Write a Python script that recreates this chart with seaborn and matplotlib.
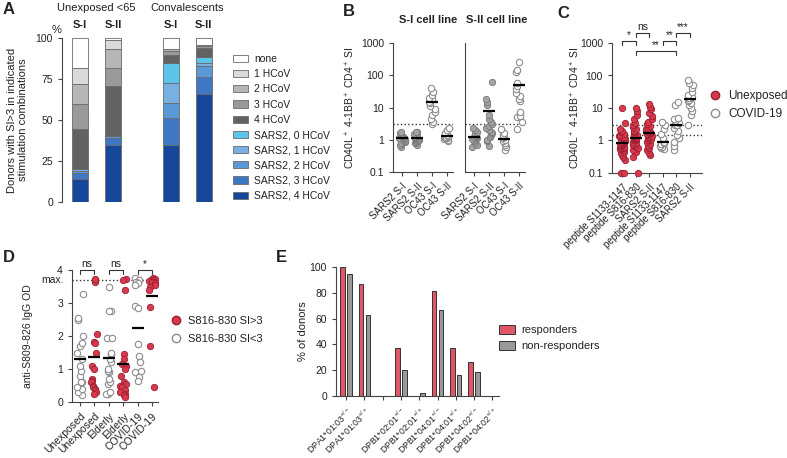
import numpy as np
import pandas as pd
import matplotlib
matplotlib.use("Agg")
import matplotlib.pyplot as plt
from matplotlib.patches import Patch
from matplotlib.lines import Line2D
import seaborn as sns

W, H = 787, 458

# ---------------- data ----------------
# A: % of donors per stimulation combination (legend order, top -> bottom)
stack_labels = ['none', '1 HCoV', '2 HCoV', '3 HCoV', '4 HCoV',
                'SARS2, 0 HCoV', 'SARS2, 1 HCoV', 'SARS2, 2 HCoV',
                'SARS2, 3 HCoV', 'SARS2, 4 HCoV']
stack_colors = ['#ffffff', '#dadada', '#b6b6b6', '#9a9a9a', '#626262',
                '#5cc5ea', '#79b0e2', '#5a98d6', '#3e77c3', '#16479a']
bar_names = ['S-I', 'S-II', 'S-I', 'S-II']
group_names = ['Unexposed <65', 'Convalescents']
unexp_s1 = [18.5, 9.5, 12, 15.5, 24.5, 0, 1, 1.2, 3.5, 14.3]
unexp_s2 = [1.5, 5.5, 11, 11.5, 30, 0, 0.5, 1, 4, 35]
conv_s1 = [6.5, 0.5, 1, 2.5, 5, 12, 12, 9, 17, 34.5]
conv_s2 = [4, 0.5, 0.5, 1, 5.5, 3.5, 2, 6.5, 10.5, 66]

# B: SI per stimulation, two cell lines
b_ticklabels = ['SARS2 S-I', 'SARS2 S-II', 'OC43 S-I', 'OC43 S-II']
si_line_sars2_s1 = [0.6, 0.7, 0.8, 0.85, 0.9, 1.0, 1.05, 1.1, 1.1, 1.15, 1.2, 1.3, 1.4, 1.6, 1.8]
si_line_sars2_s2 = [0.7, 0.8, 0.85, 0.9, 1.0, 1.0, 1.05, 1.1, 1.1, 1.15, 1.2, 1.3, 1.5, 1.7, 1.8]
si_line_oc43_s1 = [3.0, 3.5, 4.5, 6, 7, 9, 11, 14, 15, 18, 20, 25, 30, 40]
si_line_oc43_s2 = [0.9, 1.0, 1.05, 1.1, 1.15, 1.2, 1.2, 1.3, 1.4, 1.6, 2.0, 2.3]
sii_line_sars2_s1 = [0.6, 0.7, 0.8, 0.9, 1.0, 1.05, 1.1, 1.15, 1.2, 1.25, 1.3, 1.4, 1.5, 1.7, 2.0, 2.3]
sii_line_sars2_s2 = [0.65, 0.9, 1.0, 1.2, 1.4, 1.6, 1.8, 2.0, 2.3, 2.6, 3.0, 3.5, 4.5, 6, 12, 15, 18, 60]
sii_line_oc43_s1 = [0.48, 0.6, 0.7, 0.8, 0.9, 1.0, 1.1, 1.2, 1.4, 1.6, 2.2]
sii_line_oc43_s2 = [2.2, 3.5, 5.0, 5.6, 7.1, 16, 18, 23, 29, 37, 46, 56, 124, 150, 250]

# C: peptide responses, unexposed vs COVID-19
c_ticklabels = ['peptide S1133-1147', 'peptide S816-830', 'SARS2 S-II'] * 2
c_unexp_s1133 = [0.1, 0.1, 0.25, 0.3, 0.35, 0.4, 0.45, 0.5, 0.55, 0.6, 0.6, 0.65, 0.7, 0.7,
                 0.75, 0.8, 0.8, 0.85, 0.85, 0.9, 0.9, 0.95, 1.0, 1.0, 1.1, 1.2, 1.3, 1.4,
                 1.5, 1.6, 1.8, 2.0, 2.2, 3.5, 10]
c_unexp_s816 = [0.1, 0.3, 0.45, 0.5, 0.6, 0.7, 0.75, 0.8, 0.85, 0.9, 1.0, 1.0, 1.1, 1.1, 1.2,
                1.2, 1.2, 1.3, 1.4, 1.5, 1.6, 1.8, 2.0, 2.3, 2.6, 3.0, 3.5, 4.5, 6, 8, 10]
c_unexp_s2 = [0.35, 0.4, 0.5, 0.6, 0.7, 0.8, 0.9, 1.0, 1.1, 1.2, 1.3, 1.4, 1.5, 1.6, 1.7, 1.7,
              1.8, 1.9, 2.0, 2.2, 2.5, 2.8, 3.2, 3.8, 4.5, 5.5, 7, 9, 11, 13]
c_covid_s1133 = [0.55, 0.6, 0.65, 0.7, 0.8, 0.85, 0.9, 1.2, 1.6, 2.2, 3.0, 3.8]
c_covid_s816 = [0.5, 0.7, 0.9, 1.2, 1.5, 2.0, 2.5, 3.0, 3.0, 3.5, 4.0, 4.5, 5.0, 12, 15]
c_covid_s2 = [3.0, 6, 8, 10, 12, 14, 16, 18, 20, 22, 25, 30, 40, 50, 60, 75]

# D: anti-S809-826 IgG OD
d_ticklabels = ['Unexposed', 'Unexposed', 'Elderly', 'Elderly', 'COVID-19', 'COVID-19']
d_unexp_low = [0.22, 0.3, 0.4, 0.45, 0.6, 0.6, 0.8, 0.95, 1.1, 1.3, 1.5, 1.7, 1.8, 2.0, 2.5, 2.55, 3.27]
d_unexp_high = [3.7, 3.65, 3.72, 2.05, 1.82, 1.8, 1.5, 1.1, 1.0, 0.7, 0.65, 0.6, 0.5, 0.45, 0.4, 0.35, 0.3, 0.25]
d_elderly_low = [0.25, 0.25, 0.3, 0.55, 0.6, 0.7, 0.9, 0.95, 1.0, 1.2, 1.3, 1.45, 1.5, 1.95, 1.95, 2.75, 2.75, 3.5]
d_elderly_high = [3.72, 3.7, 3.4, 1.45, 1.3, 1.15, 1.1, 1.0, 0.8, 0.6, 0.55, 0.5, 0.45, 0.35, 0.3, 0.25, 0.2, 0.15]
d_covid_low = [3.75, 3.7, 3.65, 3.6, 3.55, 2.9, 2.85, 1.75, 1.4, 1.2, 0.95, 0.9, 0.75, 0.65]
d_covid_high = [3.75, 3.72, 3.7, 3.7, 3.68, 3.65, 3.65, 3.6, 3.55, 3.5, 3.4, 2.87, 1.7, 0.45]
d_max = 3.7

# E: HLA-DP allele frequency
allele_labels = [r'DPA1*01:03$^{+/-}$', r'DPA1*01:03$^{+/+}$', '',
                 r'DPB1*02:01$^{+/-}$', r'DPB1*02:01$^{+/+}$',
                 r'DPB1*04:01$^{+/-}$', r'DPB1*04:01$^{+/+}$',
                 r'DPB1*04:02$^{+/-}$', r'DPB1*04:02$^{+/+}$']
responders = [100, 87, 0, 37, 0, 81.5, 37, 26.5, 0]
non_responders = [94.5, 63, 0, 20.5, 2, 67, 16, 18.5, 0]

RED = '#d8394d'
RED_EDGE = '#9b1f30'
RED_BAR = '#e05567'
GRAY_FILL = '#a4a4a4'
GRAY_EDGE = '#777777'
OPEN_EDGE = '#8c8c8c'
AX_COL = '#444444'

sns.set_theme(style='ticks')
plt.rcParams['font.family'] = ['Liberation Sans', 'DejaVu Sans']
plt.rcParams.update({
    'mathtext.fontset': 'custom',
    'mathtext.rm': 'Liberation Sans',
    'mathtext.it': 'Liberation Sans:italic',
    'mathtext.bf': 'Liberation Sans:bold',
    'axes.edgecolor': AX_COL,
    'axes.linewidth': 0.8,
    'xtick.color': AX_COL,
    'ytick.color': AX_COL,
    'xtick.labelcolor': '#222222',
    'ytick.labelcolor': '#222222',
    'xtick.major.size': 3,
    'ytick.major.size': 3,
    'xtick.major.width': 0.8,
    'ytick.major.width': 0.8,
    'xtick.labelsize': 7.5,
    'ytick.labelsize': 7.5,
    'axes.labelsize': 7.5,
    'text.color': '#222222',
    'axes.labelcolor': '#222222',
})

fig = plt.figure(figsize=(W / 100, H / 100), dpi=100)


def px_axes(left, top, right, bottom):
    return fig.add_axes([left / W, 1 - bottom / H, (right - left) / W, (bottom - top) / H])


def ftext(x, y, s, **kw):
    kw.setdefault('ha', 'center')
    kw.setdefault('va', 'center')
    fig.text(x / W, 1 - y / H, s, **kw)


def long_df(groups):
    rows = []
    for cat, kind, vals in groups:
        for v in vals:
            rows.append({'cat': cat, 'kind': kind, 'val': v})
    return pd.DataFrame(rows)


def strip_panel(ax, df, order, fill, edge, est):
    hollow = df[df['kind'] == 'open']
    filled = df[df['kind'] == 'filled']
    if len(hollow):
        sns.stripplot(data=hollow, x='cat', y='val', order=order, ax=ax, color='white',
                      edgecolor=OPEN_EDGE, linewidth=0.8, size=4.6, jitter=0.22)
    if len(filled):
        sns.stripplot(data=filled, x='cat', y='val', order=order, ax=ax, color=fill,
                      edgecolor=edge, linewidth=0.6, size=4.6, jitter=0.22)
    sns.pointplot(data=df, x='cat', y='val', order=order, ax=ax, estimator=est,
                  errorbar=None, color='black', marker='_', linestyle='none',
                  markersize=9, markeredgewidth=1.6)
    for coll in ax.collections:
        coll.set_clip_on(False)
    for ln in ax.lines:
        ln.set_zorder(5)


def bracket(ax, x1, x2, y, label, tick=0.03, fs=7):
    trans = ax.get_xaxis_transform()
    ax.plot([x1, x1, x2, x2], [y - tick, y, y, y - tick], transform=trans,
            color='#333333', lw=0.8, clip_on=False)
    ax.text((x1 + x2) / 2, y + 0.004, label, transform=trans, ha='center',
            va='bottom', fontsize=fs)


def rot_labels(ax, labels, fs=7):
    ax.set_xticks(range(len(labels)))
    ax.set_xticklabels(labels, rotation=45, ha='right', rotation_mode='anchor', fontsize=fs)
    ax.set_xlabel('')


# ---------------- A ----------------
ax_a = px_axes(62, 38, 222, 202)
bar_sets = [unexp_s1, unexp_s2, conv_s1, conv_s2]
bar_x = [g * 2.75 + i for g in range(2) for i in range(2)]
for x, vals in zip(bar_x, bar_sets):
    bottom = 0
    for lab, col, v in reversed(list(zip(stack_labels, stack_colors, vals))):
        ax_a.bar(x, v, bottom=bottom, width=0.5, color=col, edgecolor='#6a6a6a', linewidth=0.6)
        bottom += v
ax_a.set_xlim(-0.55, 4.3)
ax_a.set_ylim(0, 100)
ax_a.set_yticks([0, 25, 50, 75, 100])
ax_a.set_xticks([])
sns.despine(ax=ax_a, bottom=True)
ax_a.set_ylabel('Donors with SI>3 in indicated\nstimulation combinations', fontsize=8)
ax_a.yaxis.set_label_coords(-0.21, 0.5)
xt = ax_a.get_xaxis_transform()
for x, name in zip(bar_x, bar_names):
    ax_a.text(x, 1.08, name, transform=xt, ha='center', va='center', fontsize=8, fontweight='bold')
for g, name in enumerate(group_names):
    ax_a.text(g * 2.75 + 0.5, 1.185, name, transform=xt, ha='center', va='center', fontsize=8)
ftext(57, 30, '%', fontsize=8)
handles = [Patch(facecolor=c, edgecolor='#6a6a6a', linewidth=0.6, label=l)
           for l, c in zip(stack_labels, stack_colors)]
ax_a.legend(handles=handles, loc='upper left', bbox_to_anchor=(233 / W, 1 - 54 / H),
            bbox_transform=fig.transFigure, frameon=False, fontsize=7.5, handlelength=1.4,
            handleheight=0.7, labelspacing=0.5, handletextpad=0.6, borderaxespad=0, borderpad=0)

# ---------------- B ----------------
b_order = ['s2s1', 's2s2', 'ocs1', 'ocs2']
b_left = long_df([('s2s1', 'filled', si_line_sars2_s1), ('s2s2', 'filled', si_line_sars2_s2),
                  ('ocs1', 'open', si_line_oc43_s1), ('ocs2', 'open', si_line_oc43_s2)])
b_right = long_df([('s2s1', 'filled', sii_line_sars2_s1), ('s2s2', 'filled', sii_line_sars2_s2),
                   ('ocs1', 'open', sii_line_oc43_s1), ('ocs2', 'open', sii_line_oc43_s2)])
ax_b1 = px_axes(393, 43, 453, 172)
ax_b2 = px_axes(465, 43, 525, 172)
np.random.seed(3)
for ax, df in [(ax_b1, b_left), (ax_b2, b_right)]:
    strip_panel(ax, df, b_order, GRAY_FILL, GRAY_EDGE, 'mean')
    ax.set_yscale('log')
    ax.set_ylim(0.1, 1000)
    ax.set_xlim(-0.6, 3.4)
    ax.axhline(3, ls=':', color='#333333', lw=1.0)
    rot_labels(ax, b_ticklabels)
    ax.set_ylabel('')
    sns.despine(ax=ax)
ax_b1.set_yticks([0.1, 1, 10, 100, 1000])
ax_b1.set_yticklabels(['0.1', '1', '10', '100', '1000'])
ax_b1.yaxis.set_minor_locator(matplotlib.ticker.NullLocator())
ax_b2.yaxis.set_minor_locator(matplotlib.ticker.NullLocator())
ax_b2.tick_params(axis='y', left=False, labelleft=False)
ax_b1.set_ylabel(r'CD40L$^+$ 4-1BB$^+$ CD4$^+$ SI', fontsize=7.5)
ax_b1.yaxis.set_label_coords(-0.6, 0.5)
ftext(428, 20, 'S-I cell line', fontsize=8, fontweight='bold')
ftext(497, 20, 'S-II cell line', fontsize=8, fontweight='bold')

# ---------------- C ----------------
c_order = ['u1', 'u2', 'u3', 'c1', 'c2', 'c3']
c_df = long_df([('u1', 'filled', c_unexp_s1133), ('u2', 'filled', c_unexp_s816),
                ('u3', 'filled', c_unexp_s2), ('c1', 'open', c_covid_s1133),
                ('c2', 'open', c_covid_s816), ('c3', 'open', c_covid_s2)])
ax_c = px_axes(612, 43, 702, 173)
strip_panel(ax_c, c_df, c_order, RED, RED_EDGE, 'median')
ax_c.set_yscale('log')
ax_c.set_ylim(0.1, 1000)
ax_c.set_xlim(-0.75, 5.9)
ax_c.set_yticks([0.1, 1, 10, 100, 1000])
ax_c.set_yticklabels(['0.1', '1', '10', '100', '1000'])
ax_c.yaxis.set_minor_locator(matplotlib.ticker.NullLocator())
ax_c.axhline(3, ls=':', color='#333333', lw=1.0)
ax_c.axhline(1.5, ls=':', color='#333333', lw=1.0)
rot_labels(ax_c, c_ticklabels)
sns.despine(ax=ax_c)
ax_c.set_ylabel(r'CD40L$^+$ 4-1BB$^+$ CD4$^+$ SI', fontsize=7.5)
ax_c.yaxis.set_label_coords(-0.33, 0.5)
bracket(ax_c, 0, 1, 1.015, '*')
bracket(ax_c, 1, 2, 1.077, 'ns', fs=7.5)
bracket(ax_c, 3, 4, 1.015, '**')
bracket(ax_c, 4, 5, 1.077, '***')
bracket(ax_c, 1, 4, 0.94, '**')
ax_c.legend(handles=[Line2D([], [], marker='o', ls='none', markerfacecolor=RED,
                            markeredgecolor=RED_EDGE, markersize=6, label='Unexposed'),
                     Line2D([], [], marker='o', ls='none', markerfacecolor='white',
                            markeredgecolor=OPEN_EDGE, markersize=6, label='COVID-19')],
            loc='upper left', bbox_to_anchor=(709 / W, 1 - 90 / H), bbox_transform=fig.transFigure,
            frameon=False, fontsize=8.5, handlelength=1.0, handletextpad=0.6,
            labelspacing=0.55, borderaxespad=0, borderpad=0)

# ---------------- D ----------------
d_order = ['ul', 'uh', 'el', 'eh', 'cl', 'ch']
d_df = long_df([('ul', 'open', d_unexp_low), ('uh', 'filled', d_unexp_high),
                ('el', 'open', d_elderly_low), ('eh', 'filled', d_elderly_high),
                ('cl', 'open', d_covid_low), ('ch', 'filled', d_covid_high)])
ax_d = px_axes(72, 270, 158, 402)
strip_panel(ax_d, d_df, d_order, RED, RED_EDGE, 'mean')
ax_d.set_ylim(0, 4)
ax_d.set_xlim(-0.55, 5.4)
ax_d.set_yticks([0, 1, 2, 3, 4])
ax_d.axhline(d_max, ls=':', color='#333333', lw=1.0)
ax_d.text(-0.1, d_max, 'max.', transform=ax_d.get_yaxis_transform(), ha='right', va='center', fontsize=7.5)
rot_labels(ax_d, d_ticklabels, fs=7.5)
sns.despine(ax=ax_d)
ax_d.set_ylabel('anti-S809-826 IgG OD', fontsize=7.5)
ax_d.yaxis.set_label_coords(-0.45, 0.5)
bracket(ax_d, 0, 1, 1.0, 'ns', fs=7.5)
bracket(ax_d, 2, 3, 1.0, 'ns', fs=7.5)
bracket(ax_d, 4, 5, 1.0, '*')
ax_d.legend(handles=[Line2D([], [], marker='o', ls='none', markerfacecolor=RED,
                            markeredgecolor=RED_EDGE, markersize=6, label='S816-830 SI>3'),
                     Line2D([], [], marker='o', ls='none', markerfacecolor='white',
                            markeredgecolor=OPEN_EDGE, markersize=6, label='S816-830 SI<3')],
            loc='upper left', bbox_to_anchor=(170 / W, 1 - 316 / H), bbox_transform=fig.transFigure,
            frameon=False, fontsize=8, handlelength=1.0, handletextpad=0.6,
            labelspacing=0.7, borderaxespad=0, borderpad=0)

# ---------------- E ----------------
e_df = pd.DataFrame({'allele': allele_labels * 2,
                     'pct': responders + non_responders,
                     'group': ['responders'] * len(allele_labels) + ['non-responders'] * len(allele_labels)})
ax_e = px_axes(336, 267, 499, 396)
sns.barplot(data=e_df, x='allele', y='pct', hue='group', order=allele_labels,
            hue_order=['responders', 'non-responders'], palette=[RED_BAR, '#999999'],
            saturation=1, width=0.75, gap=0.35, edgecolor='#333333', linewidth=0.7,
            ax=ax_e, legend=False)
ax_e.set_ylim(0, 100)
ax_e.set_xlim(-0.55, 8.36)
ax_e.set_yticks([0, 20, 40, 60, 80, 100])
rot_labels(ax_e, allele_labels, fs=6.3)
sns.despine(ax=ax_e)
ax_e.set_ylabel('% of donors', fontsize=8)
ax_e.yaxis.set_label_coords(-0.17, 0.5)
ax_e.legend(handles=[Patch(facecolor=RED_BAR, edgecolor='#333333', linewidth=0.7, label='responders'),
                     Patch(facecolor='#999999', edgecolor='#333333', linewidth=0.7, label='non-responders')],
            loc='upper left', bbox_to_anchor=(499 / W, 1 - 325 / H), bbox_transform=fig.transFigure,
            frameon=False, fontsize=8, handlelength=1.4, handleheight=0.8, handletextpad=0.6,
            labelspacing=0.55, borderaxespad=0, borderpad=0)

# panel letters
for letter, x, y in [('A', 9, 10), ('B', 349, 12), ('C', 563, 14), ('D', 9, 258), ('E', 281, 258)]:
    ftext(x, y, letter, fontsize=12, fontweight='bold')

fig.savefig('out.png', dpi=100)
